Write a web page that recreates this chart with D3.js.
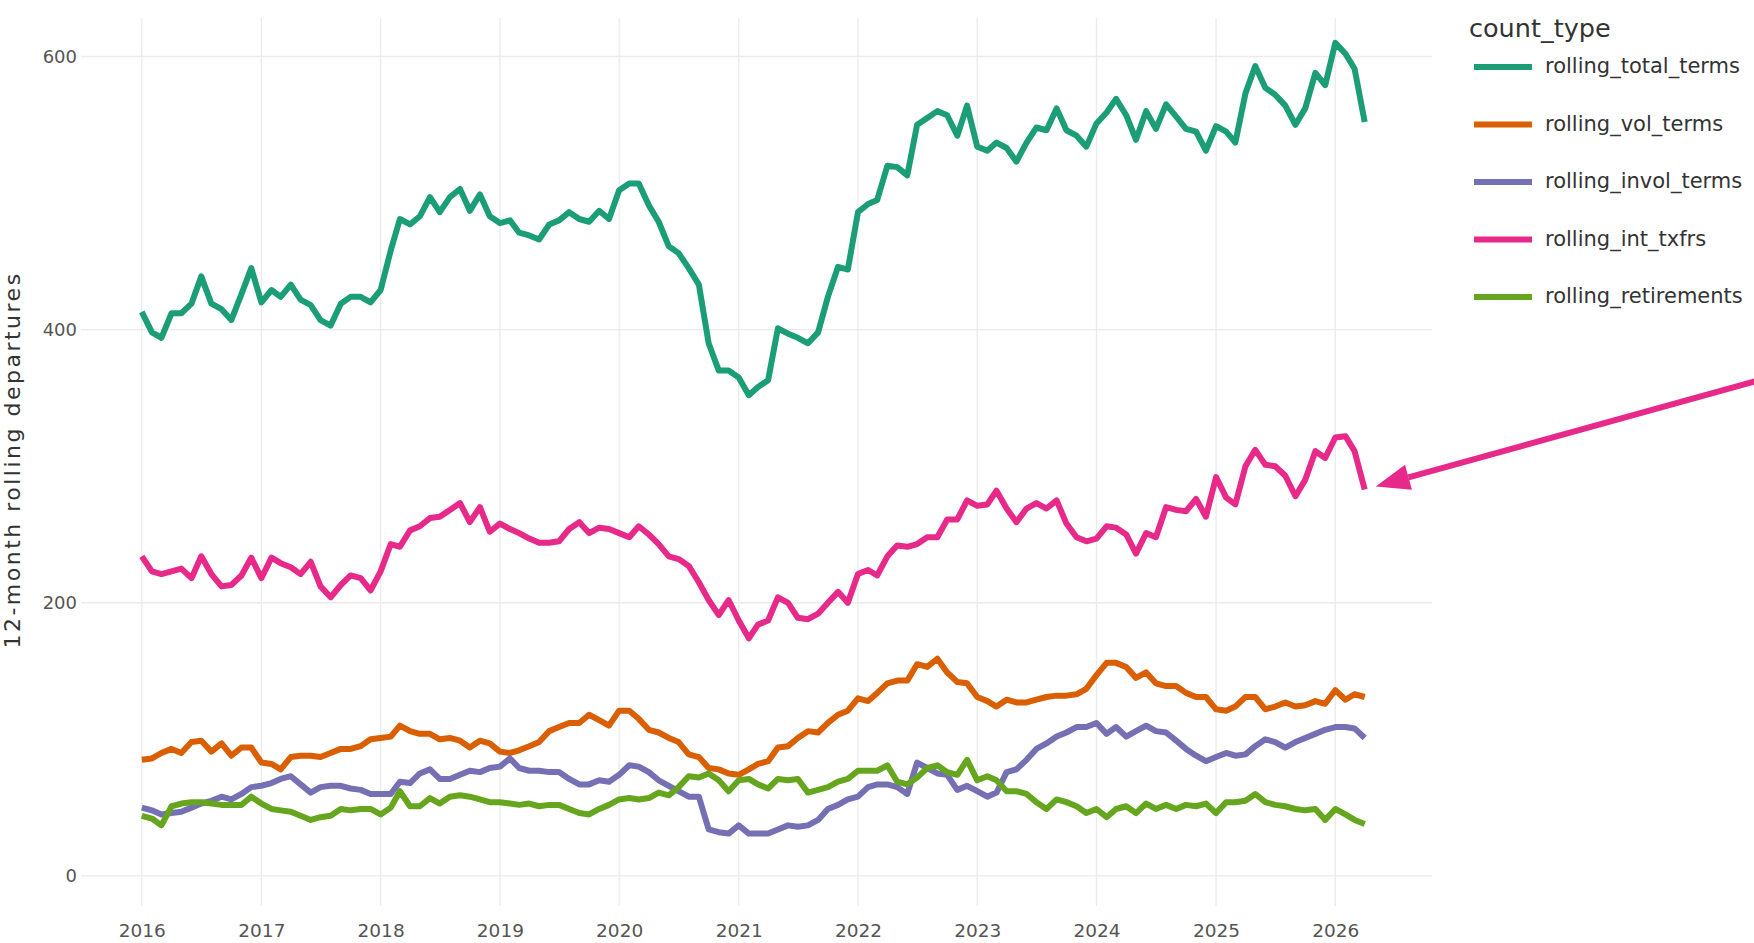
<!DOCTYPE html>
<html>
<head>
<meta charset="utf-8">
<script src="https://cdn.jsdelivr.net/npm/d3@7"></script>
<style>
  html, body { margin: 0; padding: 0; background: #fff; }
  svg { display: block; font-family: "DejaVu Sans", Verdana, sans-serif; }
</style>
</head>
<body>
<svg id="chart" width="1754" height="943"></svg>
<script>
// ---- data (monthly, Jan 2016 .. Apr 2026) ----
const startMonth = "2016-01";
const seriesNames = ["rolling_total_terms", "rolling_vol_terms", "rolling_invol_terms", "rolling_int_txfrs", "rolling_retirements"];
const seriesColors = ["#1B9E77", "#D95F02", "#7570B3", "#E7298A", "#66A61E"];

const rolling_total_terms = [
  413, 398, 394, 412, 412, 419, 439, 419, 415, 407,
  426, 445, 420, 429, 424, 433, 422, 418, 407, 403,
  419, 424, 424, 420, 429, 458, 481, 477, 483, 497,
  486, 497, 503, 487, 499, 483, 478, 480, 471, 469,
  466, 477, 480, 486, 481, 479, 487, 481, 502, 507,
  507, 491, 479, 461, 456, 445, 433, 390, 370, 370,
  365, 352, 358, 363, 401, 397, 394, 390, 398, 424,
  446, 444, 486, 492, 495, 520, 519, 513, 550, 555,
  560, 557, 542, 564, 534, 531, 537, 533, 523, 537,
  548, 546, 562, 546, 542, 534, 551, 559, 569, 557,
  539, 560, 547, 565, 556, 547, 545, 531, 549, 545,
  537, 573, 593, 577, 572, 564, 550, 562, 588, 579,
  610, 602, 591, 552
];
const rolling_vol_terms = [
  85, 86, 90, 93, 90, 98, 99, 91, 97, 88,
  94, 94, 83, 82, 78, 87, 88, 88, 87, 90,
  93, 93, 95, 100, 101, 102, 110, 106, 104, 104,
  100, 101, 99, 94, 99, 97, 91, 90, 92, 95,
  98, 106, 109, 112, 112, 118, 114, 110, 121, 121,
  115, 107, 105, 101, 98, 89, 87, 79, 78, 75,
  74, 78, 82, 84, 94, 95, 101, 106, 105, 112,
  118, 121, 130, 128, 134, 141, 143, 143, 155, 153,
  159, 149, 142, 141, 131, 128, 124, 129, 127, 127,
  129, 131, 132, 132, 133, 137, 147, 156, 156, 153,
  145, 149, 141, 139, 139, 134, 131, 131, 122, 121,
  124, 131, 131, 122, 124, 127, 124, 125, 128, 126,
  136, 129, 133, 131
];
const rolling_invol_terms = [
  50, 48, 45, 46, 47, 50, 53, 55, 58, 56,
  60, 65, 66, 68, 71, 73, 67, 61, 65, 66,
  66, 64, 63, 60, 60, 60, 69, 68, 75, 78,
  71, 71, 74, 77, 76, 79, 80, 86, 79, 77,
  77, 76, 76, 71, 67, 67, 70, 69, 74, 81,
  80, 76, 70, 66, 62, 58, 58, 34, 32, 31,
  37, 31, 31, 31, 34, 37, 36, 37, 41, 49,
  52, 56, 58, 65, 67, 67, 65, 60, 83, 79,
  75, 74, 63, 66, 62, 58, 61, 76, 78, 85,
  93, 97, 102, 105, 109, 109, 112, 104, 109, 102,
  106, 110, 106, 105, 99, 93, 88, 84, 87, 90,
  88, 89, 95, 100, 98, 94, 98, 101, 104, 107,
  109, 109, 108, 101
];
const rolling_int_txfrs = [
  234, 223, 221, 223, 225, 218, 234, 221, 212, 213,
  220, 233, 218, 233, 229, 226, 221, 230, 212, 204,
  213, 220, 218, 209, 223, 243, 241, 253, 256, 262,
  263, 268, 273, 259, 270, 252, 258, 254, 251, 247,
  244, 244, 245, 254, 259, 251, 255, 254, 251, 248,
  256, 250, 243, 234, 232, 227, 215, 202, 191, 202,
  187, 174, 184, 187, 204, 200, 189, 188, 192, 200,
  208, 200, 221, 224, 220, 234, 242, 241, 243, 248,
  248, 261, 261, 275, 271, 272, 282, 269, 259, 269,
  273, 269, 275, 258, 248, 245, 247, 256, 255, 250,
  236, 251, 248, 270, 268, 267, 276, 263, 292, 277,
  272, 300, 312, 301, 300, 293, 278, 290, 311, 306,
  321, 322, 311, 283
];
const rolling_retirements = [
  44, 42, 37, 51, 53, 54, 54, 53, 52, 52,
  52, 58, 53, 49, 48, 47, 44, 41, 43, 44,
  49, 48, 49, 49, 45, 50, 62, 51, 51, 57,
  53, 58, 59, 58, 56, 54, 54, 53, 52, 53,
  51, 52, 52, 49, 46, 45, 49, 52, 56, 57,
  56, 57, 61, 59, 65, 73, 72, 75, 70, 62,
  70, 71, 67, 64, 71, 70, 71, 61, 63, 65,
  69, 71, 77, 77, 77, 81, 69, 67, 72, 79,
  81, 76, 74, 85, 70, 73, 70, 62, 62, 60,
  54, 49, 56, 54, 51, 46, 49, 43, 49, 51,
  46, 53, 49, 52, 49, 52, 51, 53, 46, 54,
  54, 55, 60, 54, 52, 51, 49, 48, 49, 41,
  49, 45, 41, 38
];
const yTicks = [0, 200, 400, 600];
const xTickYears = [2016, 2017, 2018, 2019, 2020, 2021, 2022, 2023, 2024, 2025, 2026];
const legendTitle = "count_type";
const yAxisTitle = "12-month rolling departures";

const seriesValues = [rolling_total_terms, rolling_vol_terms, rolling_invol_terms, rolling_int_txfrs, rolling_retirements];

// ---- layout ----
const svg = d3.select("#chart");
const plot = { left: 81, right: 1432, top: 18, bottom: 906 };
const FONT = '"DejaVu Sans", Verdana, sans-serif';

const parseMonth = d3.timeParse("%Y-%m");
const t0 = parseMonth(startMonth);
const dates = rolling_total_terms.map((_, i) => d3.timeMonth.offset(t0, i));

const x = d3.scaleTime()
  .domain([new Date(2016, 0, 1), new Date(2026, 0, 1)])
  .range([141.8, 1335.3]);
const y = d3.scaleLinear().domain([0, 600]).range([875.9, 56.5]);

// grid
const grid = svg.append("g");
grid.selectAll("line.v").data(xTickYears).join("line")
  .attr("x1", d => x(new Date(d, 0, 1))).attr("x2", d => x(new Date(d, 0, 1)))
  .attr("y1", plot.top).attr("y2", plot.bottom)
  .attr("stroke", "#ebebeb").attr("stroke-width", 1.3);
grid.selectAll("line.h").data(yTicks).join("line")
  .attr("x1", plot.left).attr("x2", plot.right)
  .attr("y1", d => y(d)).attr("y2", d => y(d))
  .attr("stroke", "#ebebeb").attr("stroke-width", 1.3);

// axes (labels only, via d3 axis generators)
const xAxis = d3.axisBottom(x)
  .tickValues(xTickYears.map(yr => new Date(yr, 0, 1)))
  .tickFormat(d3.timeFormat("%Y"))
  .tickSize(0).tickPadding(0);
const gx = svg.append("g").attr("transform", "translate(0,924)").call(xAxis);
gx.select(".domain").remove();
gx.selectAll("text").attr("font-size", 18.5).attr("fill", "#555")
  .attr("font-family", FONT);

const yAxis = d3.axisLeft(y).tickValues(yTicks).tickSize(0).tickPadding(0);
const gy = svg.append("g").attr("transform", "translate(77,0)").call(yAxis);
gy.select(".domain").remove();
gy.selectAll("text").attr("font-size", 18).attr("fill", "#555")
  .attr("font-family", FONT);

// y title
svg.append("text")
  .attr("transform", "translate(14,460) rotate(-90)")
  .attr("text-anchor", "middle")
  .attr("dominant-baseline", "middle")
  .attr("font-size", 22)
  .attr("letter-spacing", 2.5)
  .attr("font-family", FONT)
  .attr("fill", "#333")
  .text(yAxisTitle);

// lines
const line = d3.line().x((d, i) => x(dates[i])).y(d => y(d)).curve(d3.curveLinear);
const drawOrder = [0, 1, 2, 3, 4];
svg.append("g").selectAll("path").data(drawOrder).join("path")
  .attr("d", k => line(seriesValues[k]))
  .attr("fill", "none")
  .attr("stroke", k => seriesColors[k])
  .attr("stroke-width", 6)
  .attr("stroke-linejoin", "round")
  .attr("stroke-linecap", "butt");

// legend
const lg = svg.append("g").attr("font-family", FONT);
lg.append("text").attr("x", 1469).attr("y", 37)
  .attr("font-size", 25.5).attr("fill", "#333").text(legendTitle);
const items = lg.selectAll("g.item").data(seriesNames).join("g")
  .attr("transform", (d, i) => `translate(1474,${67 + i * 57.5})`);
items.append("line").attr("x1", 0).attr("x2", 58).attr("y1", 0).attr("y2", 0)
  .attr("stroke", (d, i) => seriesColors[i]).attr("stroke-width", 6);
items.append("text").attr("x", 71).attr("y", 0)
  .attr("dominant-baseline", "middle")
  .attr("font-size", 21).attr("fill", "#333").text(d => d);

// annotation arrow (pointing at end of int_txfrs line)
const lastI = rolling_int_txfrs.length - 1;
const tipX = x(dates[lastI]) + 11, tipY = y(rolling_int_txfrs[lastI]) - 3;
const fromX = 1760, fromY = 380;
const ang = Math.atan2(tipY - fromY, tipX - fromX);
const headLen = 34, headW = 13;
const bx = tipX - headLen * Math.cos(ang), by = tipY - headLen * Math.sin(ang);
svg.append("line").attr("x1", fromX).attr("y1", fromY).attr("x2", bx).attr("y2", by)
  .attr("stroke", "#E7298A").attr("stroke-width", 6);
svg.append("path")
  .attr("d", d3.line()([
    [tipX, tipY],
    [bx + headW * Math.sin(ang), by - headW * Math.cos(ang)],
    [bx - headW * Math.sin(ang), by + headW * Math.cos(ang)]
  ]) + "Z")
  .attr("fill", "#E7298A");
</script>
</body>
</html>
